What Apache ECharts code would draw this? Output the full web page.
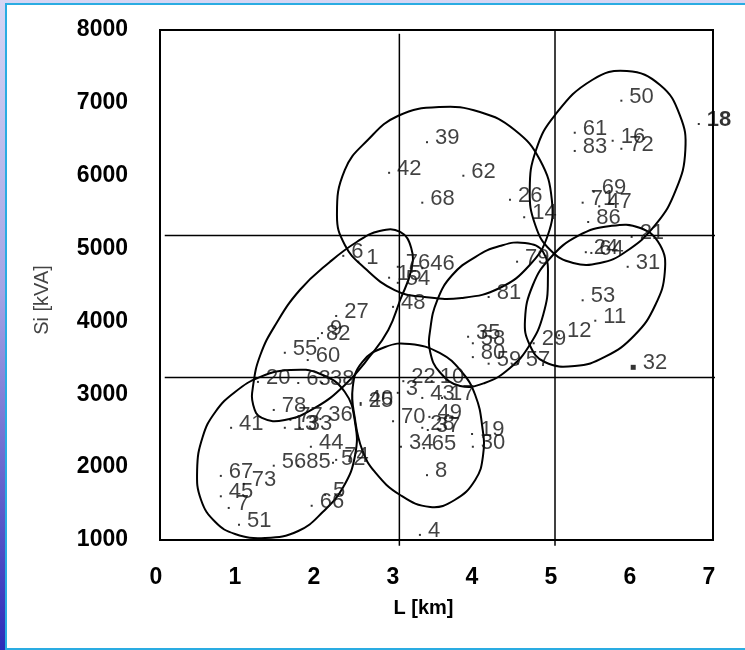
<!DOCTYPE html>
<html>
<head>
<meta charset="utf-8">
<script src="https://cdn.jsdelivr.net/npm/echarts@6/dist/echarts.min.js"></script>
<style>
  html, body { margin: 0; padding: 0; }
  body {
    width: 745px; height: 650px; overflow: hidden; position: relative;
    background: linear-gradient(to bottom, #d6d6f4 0%, #a4a4e4 45%, #2c2cb8 100%);
  }
  #panel {
    position: absolute; left: 5px; top: 3px; width: 770px; height: 647px;
    background: #fff; border: 2px solid #2aace2; box-sizing: border-box;
  }
  #chart { position: absolute; left: 0; top: 0; width: 745px; height: 650px; }
</style>
</head>
<body>
<div id="panel"></div>
<div id="chart"></div>
<script>
// node numbers and their (L, Si) positions
const pointIds = ['39', '42', '62', '68', '26', '14', '50', '18', '61', '83', '16', '72', '69', '71', '47', '86',
  '21', '24', '64', '31', '53', '11', '12', '29', '32', '79', '81', '35', '58', '80', '59', '57',
  '76', '46', '15', '54', '48', '6', '1', '27', '9', '82', '55', '60', '20', '63', '38', '78',
  '77', '13', '33', '36', '41', '44', '56', '85', '52', '74', '67', '73', '45', '7', '51', '66',
  '5', '22', '10', '3', '43', '17', '40', '25', '70', '49', '28', '37', '19', '34', '65', '30', '8', '4'];
const pointL = [3.38, 2.90, 3.84, 3.32, 4.43, 4.61, 5.84, 6.82, 5.25, 5.25, 5.73, 5.84, 5.49, 5.35, 5.56, 5.42,
  5.97, 5.39, 5.46, 5.92, 5.35, 5.51, 5.05, 4.73, 5.99, 4.52, 4.16, 3.90, 3.96, 3.96, 4.16, 4.53,
  3.01, 3.32, 2.90, 3.01, 2.95, 2.32, 2.51, 2.23, 2.05, 2.00, 1.58, 1.87, 1.24, 1.75, 2.05, 1.44,
  1.65, 1.58, 1.77, 2.03, 0.90, 1.91, 1.44, 1.75, 2.19, 2.23, 0.77, 1.06, 0.77, 0.87, 1.00, 1.92,
  2.09, 3.08, 3.44, 3.01, 3.32, 3.57, 2.54, 2.54, 2.95, 3.41, 3.32, 3.39, 3.95, 3.05, 3.34, 3.96, 3.38, 3.29];
const pointSi = [6460, 6040, 6000, 5630, 5670, 5430, 7030, 6710, 6590, 6340, 6480, 6370, 5780, 5630, 5580, 5365,
  5160, 4950, 4940, 4750, 4290, 4010, 3810, 3700, 3370, 4820, 4335, 3790, 3700, 3510, 3420, 3420,
  4750, 4730, 4600, 4530, 4200, 4900, 4820, 4075, 3840, 3770, 3570, 3470, 3170, 3155, 3155, 2785,
  2650, 2540, 2540, 2660, 2540, 2280, 2020, 2020, 2060, 2100, 1880, 1770, 1600, 1440, 1210, 1470,
  1620, 3180, 3180, 3020, 2950, 2950, 2880, 2855, 2630, 2690, 2540, 2510, 2455, 2280, 2260, 2280, 1890, 1070];

// hand-drawn cluster outlines, vertices in (L, Si)
const blobTop = [[2.24, 5461], [2.34, 6079], [2.63, 6490], [3.01, 6820], [3.54, 6943], [4.05, 6875], [4.49, 6628],
  [4.81, 6216], [4.96, 5667], [4.91, 5186], [4.68, 4775], [4.30, 4459], [3.82, 4322], [3.35, 4335], [2.97, 4431],
  [2.59, 4733], [2.34, 5049]];
const blobUpperRight = [[5.47, 7314], [5.91, 7437], [6.33, 7245], [6.58, 6833], [6.65, 6353], [6.53, 5804],
  [6.27, 5324], [5.89, 4953], [5.57, 4802], [5.23, 4802], [4.94, 4981], [4.75, 5324], [4.68, 5804], [4.76, 6353],
  [5.00, 6833]];
const blobRight = [[4.62, 4020], [4.68, 3677], [4.87, 3443], [5.25, 3388], [5.63, 3512], [6.01, 3814], [6.27, 4226],
  [6.39, 4679], [6.33, 5049], [6.08, 5282], [5.70, 5310], [5.29, 5173], [4.94, 4871], [4.72, 4500]];
const blobMiddle = [[3.42, 3883], [3.51, 4294], [3.70, 4637], [3.99, 4884], [4.30, 5035], [4.62, 5077], [4.85, 4953],
  [4.91, 4569], [4.85, 4088], [4.68, 3677], [4.43, 3361], [4.11, 3155], [3.80, 3114], [3.54, 3306], [3.42, 3581]];
const blobLeft = [[1.18, 3128], [1.27, 3539], [1.46, 3951], [1.77, 4431], [2.15, 4816], [2.49, 5090], [2.78, 5241],
  [3.04, 5228], [3.18, 5008], [3.18, 4706], [3.04, 4294], [2.89, 3883], [2.66, 3526], [2.34, 3128], [1.96, 2812],
  [1.58, 2647], [1.29, 2675], [1.18, 2853]];
const blobLowerLeft = [[0.47, 1961], [0.54, 2414], [0.70, 2757], [0.95, 3032], [1.27, 3238], [1.65, 3334], [2.03, 3279],
  [2.34, 3032], [2.47, 2606], [2.47, 2167], [2.32, 1728], [2.06, 1384], [1.75, 1124], [1.33, 1028], [0.95, 1083],
  [0.70, 1247], [0.52, 1549]];
const blobLower = [[2.47, 2647], [2.44, 3100], [2.56, 3443], [2.85, 3649], [3.16, 3690], [3.54, 3567], [3.82, 3306],
  [3.99, 2990], [4.08, 2551], [4.09, 2167], [3.99, 1824], [3.73, 1549], [3.42, 1453], [3.04, 1618], [2.72, 1934],
  [2.56, 2236]];
const blobs = [blobTop, blobUpperRight, blobRight, blobMiddle, blobLeft, blobLowerLeft, blobLower];

// dividing lines
const hLevels = [5180, 3230];
const hSpan = [0.06, 7.05];
const vLevels = [3.03, 5.0];
const vSpans = [[920, 7950], [920, 8000]];

const xTicks = [0, 7, 1];
const yTicks = [1000, 8000, 1000];

const chart = echarts.init(document.getElementById('chart'));

const font = 'Liberation Sans, Arial, sans-serif';

const points = pointIds.map((id, i) => {
  const item = { name: id, value: [pointL[i], pointSi[i]] };
  if (id === '32') item.symbolSize = 5;
  if (id === '18') item.label = { fontWeight: 'bold', color: '#000' };
  return item;
});

const guideSeries = [];
hLevels.forEach(y => {
  guideSeries.push({
    type: 'line', data: [[hSpan[0], y], [hSpan[1], y]], clip: false, symbol: 'none', silent: true,
    lineStyle: { color: '#000', width: 1.5 }, z: 2
  });
});
vLevels.forEach((x, i) => {
  guideSeries.push({
    type: 'line', data: [[x, vSpans[i][0]], [x, vSpans[i][1]]], clip: false, symbol: 'none', silent: true,
    lineStyle: { color: '#000', width: 1.5 }, z: 2
  });
});

const option = {
  backgroundColor: 'transparent',
  animation: false,
  grid: {
    left: 160, right: 32, top: 30, bottom: 110,
    show: true, borderColor: '#000', borderWidth: 2
  },
  xAxis: {
    type: 'value', min: xTicks[0], max: xTicks[1], interval: xTicks[2],
    axisLine: { show: true, lineStyle: { color: '#000', width: 2 } },
    axisTick: { show: false },
    splitLine: { show: false },
    axisLabel: { color: '#000', fontSize: 23, fontWeight: 'bold', fontFamily: font, margin: 26, padding: [0, 8, 0, 0] },
    name: 'L [km]', nameLocation: 'middle', nameGap: 58,
    nameTextStyle: { color: '#000', fontSize: 20, fontWeight: 'bold', fontFamily: font, padding: [0, 26, 0, 0] }
  },
  yAxis: {
    type: 'value', min: yTicks[0], max: yTicks[1], interval: yTicks[2],
    axisLine: { show: true, lineStyle: { color: '#000', width: 2 } },
    axisTick: { show: false },
    splitLine: { show: false },
    axisLabel: {
      color: '#000', fontSize: 23, fontWeight: 'bold', fontFamily: font, margin: 32,
      formatter: v => String(v)
    },
    name: 'Si [kVA]', nameLocation: 'middle', nameGap: 108, nameRotate: 90,
    nameTextStyle: { color: '#444', fontSize: 20, fontFamily: font, padding: [0, 30, 0, 0] }
  },
  series: [
    {
      type: 'custom',
      data: blobs.map((b, i) => [i]),
      silent: true,
      z: 1,
      renderItem: function (params, api) {
        const pts = blobs[api.value(0)].map(p => api.coord(p));
        return {
          type: 'polygon',
          shape: { points: pts, smooth: 0.45 },
          style: { fill: 'none', stroke: '#000', lineWidth: 2 }
        };
      }
    },
    ...guideSeries,
    {
      type: 'scatter',
      data: points,
      symbol: 'rect',
      symbolSize: 2,
      itemStyle: { color: '#000' },
      z: 3,
      label: {
        show: true, position: 'right', distance: 7, offset: [0, -4],
        formatter: '{b}', color: '#111', fontSize: 22, fontFamily: font
      }
    }
  ]
};

chart.setOption(option);
</script>
</body>
</html>
